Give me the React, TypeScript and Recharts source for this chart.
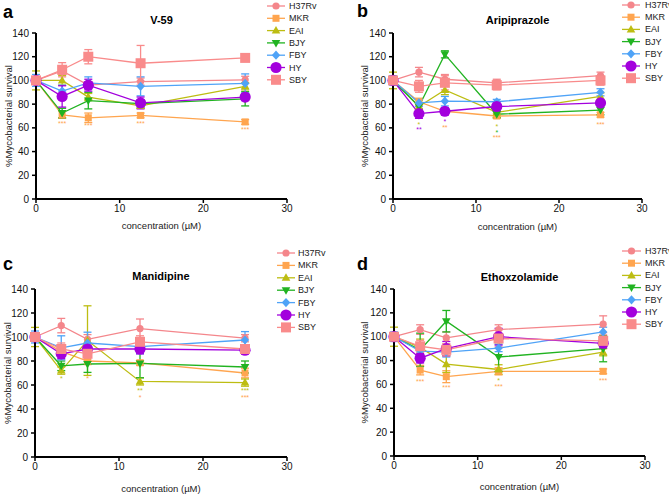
import React from 'react';
import { LineChart, Line, XAxis, YAxis, ErrorBar, ReferenceDot } from 'recharts';

const conc = [0, 3.125, 6.25, 12.5, 25];
const strains = ['H37Rv', 'MKR', 'EAI', 'BJY', 'FBY', 'HY', 'SBY'];
const xTicks = [0, 10, 20, 30];
const yTicks = [0, 20, 40, 60, 80, 100, 120, 140];

const strainColors = ['#f4868b', '#ffa54f', '#bdbd12', '#21b321', '#4fa3f7', '#a300dd', '#f98b8b'];
const strainShapes = ['circle', 'square', 'triUp', 'triDown', 'diamond', 'bigCircle', 'bigSquare'];

// rows follow strain order: H37Rv, MKR, EAI, BJY, FBY, HY, SBY
const v59Mean = [
  [100, 108, 96, 99, 100.5],
  [100, 71, 68.5, 70.5, 65],
  [100, 100, 86, 78.5, 95],
  [100, 72.5, 83, 80.5, 84.5],
  [100, 91, 98, 95, 97.5],
  [100, 86.5, 96, 81, 86],
  [100, 109, 120, 114.5, 119],
];
const v59Err = [
  [3, 3, 3, 3, 3],
  [2, 3, 4, 2, 2],
  [8, 4, 3, 2, 3],
  [2, 4, 7, 3, 6],
  [5, 5, 5, 8, 8],
  [2, 9, 5, 5, 3],
  [2, 6, 6, 15, 2],
];
const v59Stars = [
  { s: 1, x: 3.125, y: 64, t: '***' },
  { s: 1, x: 6.25, y: 62, t: '***' },
  { s: 1, x: 12.5, y: 64, t: '***' },
  { s: 1, x: 25, y: 59, t: '***' },
];

const ariMean = [
  [100, 107, 101, 98, 104],
  [100, 82, 74, 70, 71],
  [100, 78, 92, 73, 86.5],
  [100, 78, 122, 71.5, 75],
  [100, 81, 82.5, 82, 90],
  [100, 72, 74, 78, 81],
  [100, 95, 98, 96, 100],
];
const ariErr = [
  [3, 4, 4, 3, 3],
  [2, 3, 2, 2, 2],
  [7, 3, 4, 4, 3],
  [3, 3, 3, 3, 4],
  [4, 3, 4, 2, 3],
  [2, 4, 3, 4, 2],
  [2, 5, 6, 4, 4],
];
const ariStars = [
  { s: 2, x: 3.125, y: 63, t: '*' },
  { s: 5, x: 3.125, y: 58.5, t: '**' },
  { s: 5, x: 6.25, y: 65.5, t: '*' },
  { s: 1, x: 6.25, y: 60.5, t: '**' },
  { s: 2, x: 12.5, y: 61, t: '*' },
  { s: 3, x: 12.5, y: 56, t: '*' },
  { s: 1, x: 12.5, y: 51.5, t: '***' },
  { s: 1, x: 25, y: 63, t: '***' },
];

const maniMean = [
  [100, 109.5, 98, 107, 99],
  [100, 88, 80, 78.5, 70],
  [100, 72, 97, 63, 62],
  [100, 76, 77.5, 78, 75],
  [100, 91, 95, 92, 97.5],
  [100, 86, 90, 90, 89],
  [100, 90, 86, 96, 90],
];
const maniErr = [
  [3, 6, 4, 8, 3],
  [3, 3, 3, 2, 4],
  [8, 3, 29, 3, 3],
  [2, 4, 7, 12, 5],
  [5, 10, 9, 6, 7],
  [2, 4, 3, 4, 3],
  [2, 5, 5, 5, 3],
];
const maniStars = [
  { s: 2, x: 3.125, y: 65, t: '*' },
  { s: 1, x: 6.25, y: 65.5, t: '*' },
  { s: 2, x: 12.5, y: 55.5, t: '**' },
  { s: 1, x: 12.5, y: 49.5, t: '*' },
  { s: 2, x: 25, y: 55.5, t: '***' },
  { s: 1, x: 25, y: 49.5, t: '***' },
];

const ethoMean = [
  [100, 106, 99, 106, 110.5],
  [100, 72, 66.5, 71, 71],
  [100, 91, 77, 72.5, 87],
  [100, 89, 113, 83, 90],
  [100, 88, 87, 90.5, 104],
  [100, 82, 90, 100, 94.5],
  [100, 92, 89, 98.5, 96.5],
];
const ethoErr = [
  [3, 4, 5, 4, 7],
  [2, 4, 5, 3, 2],
  [8, 7, 7, 4, 3],
  [2, 14, 9, 12, 11],
  [4, 3, 4, 3, 4],
  [2, 4, 6, 7, 4],
  [2, 5, 5, 7, 5],
];
const ethoStars = [
  { s: 1, x: 3.125, y: 62.5, t: '***' },
  { s: 1, x: 6.25, y: 57, t: '***' },
  { s: 2, x: 12.5, y: 63, t: '*' },
  { s: 1, x: 12.5, y: 58, t: '***' },
  { s: 1, x: 25, y: 63, t: '***' },
];

const buildRows = (means: number[][], errs: number[][]) =>
  conc.map((x, i) => {
    const row: Record<string, number> = { x };
    strains.forEach((s, k) => {
      row[s] = means[k][i];
      row[s + '_err'] = errs[k][i];
    });
    return row;
  });

const Marker = ({ cx, cy, shape, color }: { cx: number; cy: number; shape: string; color: string }) => {
  if (cx == null || cy == null) return null;
  switch (shape) {
    case 'circle':
      return <circle cx={cx} cy={cy} r={3.6} fill={color} />;
    case 'bigCircle':
      return <circle cx={cx} cy={cy} r={5.6} fill={color} />;
    case 'square':
      return <rect x={cx - 3.5} y={cy - 3.5} width={7} height={7} fill={color} />;
    case 'bigSquare':
      return <rect x={cx - 5} y={cy - 5} width={10} height={10} fill={color} />;
    case 'triUp':
      return <polygon points={`${cx},${cy - 4.5} ${cx + 4.3},${cy + 3} ${cx - 4.3},${cy + 3}`} fill={color} />;
    case 'triDown':
      return <polygon points={`${cx},${cy + 4.5} ${cx + 4.3},${cy - 3} ${cx - 4.3},${cy - 3}`} fill={color} />;
    case 'diamond':
      return <polygon points={`${cx},${cy - 4.6} ${cx + 4.2},${cy} ${cx},${cy + 4.6} ${cx - 4.2},${cy}`} fill={color} />;
    default:
      return null;
  }
};

const panels = [
  {
    id: 'a', title: 'V-59', means: v59Mean, errs: v59Err, stars: v59Stars,
    left: 0, top: 0, width: 335, height: 245,
    plot: { l: 36, r: 287, t: 33, b: 199 },
    letterX: 3, letterY: 18, titleY: 24, xLabelY: 229, yLabelX: 8,
    legend: { x1: 267, x2: 285, tx: 289, y0: 6, dy: 12.3 },
  },
  {
    id: 'b', title: 'Aripiprazole', means: ariMean, errs: ariErr, stars: ariStars,
    left: 335, top: 0, width: 334, height: 245,
    plot: { l: 58, r: 307, t: 33, b: 199 },
    letterX: 22, letterY: 17, titleY: 24, xLabelY: 230, yLabelX: 29,
    legend: { x1: 287, x2: 305, tx: 310, y0: 5, dy: 12.2 },
  },
  {
    id: 'c', title: 'Manidipine', means: maniMean, errs: maniErr, stars: maniStars,
    left: 0, top: 245, width: 335, height: 250,
    plot: { l: 35, r: 287, t: 44, b: 212 },
    letterX: 3, letterY: 25, titleY: 35, xLabelY: 247, yLabelX: 7,
    legend: { x1: 277, x2: 295, tx: 298, y0: 8, dy: 12.4 },
  },
  {
    id: 'd', title: 'Ethoxzolamide', means: ethoMean, errs: ethoErr, stars: ethoStars,
    left: 335, top: 245, width: 334, height: 250,
    plot: { l: 59, r: 310, t: 44, b: 211 },
    letterX: 22, letterY: 25, titleY: 36, xLabelY: 245, yLabelX: 29,
    legend: { x1: 287, x2: 306, tx: 310, y0: 6, dy: 12.2 },
  },
];

const FONT = '"Liberation Sans", Arial, Helvetica, sans-serif';
const Y_AXIS_W = 30;
const X_AXIS_H = 30;

const Panel = ({ cfg }: { cfg: (typeof panels)[number] }) => {
  const { width, height, plot, legend } = cfg;
  const rows = buildRows(cfg.means, cfg.errs);
  const margin = {
    top: plot.t,
    right: width - plot.r,
    bottom: height - plot.b - X_AXIS_H,
    left: plot.l - Y_AXIS_W,
  };
  const cx = (plot.l + plot.r) / 2;
  const cy = (plot.t + plot.b) / 2;
  const tickStyle = { fontSize: 10, fill: '#111', fontFamily: FONT };

  return (
    <div style={{ position: 'absolute', left: cfg.left, top: cfg.top, width, height, overflow: 'hidden' }}>
      <LineChart width={width} height={height} data={rows} margin={margin}>
        <XAxis
          dataKey="x"
          type="number"
          domain={[0, 30]}
          ticks={xTicks}
          interval={0}
          height={X_AXIS_H}
          tick={tickStyle}
          tickSize={4}
          tickMargin={2}
          axisLine={{ stroke: '#000', strokeWidth: 2 }}
          tickLine={{ stroke: '#000', strokeWidth: 1.5 }}
        />
        <YAxis
          type="number"
          domain={[0, 140]}
          ticks={yTicks}
          interval={0}
          width={Y_AXIS_W}
          tick={tickStyle}
          tickSize={4}
          tickMargin={3}
          axisLine={{ stroke: '#000', strokeWidth: 2 }}
          tickLine={{ stroke: '#000', strokeWidth: 1.5 }}
        />
        {cfg.stars.map((st, i) => (
          <ReferenceDot
            key={`star-${i}`}
            x={st.x}
            y={st.y}
            r={0}
            fill="none"
            stroke="none"
            ifOverflow="visible"
            label={{ value: st.t, position: 'center', fill: strainColors[st.s], fontSize: 7, fontFamily: FONT }}
          />
        ))}
        {strains.map((s, k) => (
          <Line
            key={s}
            type="linear"
            dataKey={s}
            stroke={strainColors[k]}
            strokeWidth={1.3}
            isAnimationActive={false}
            activeDot={false}
            dot={(p: any) => (
              <Marker key={`${s}-${p.index}`} cx={p.cx} cy={p.cy} shape={strainShapes[k]} color={strainColors[k]} />
            )}
          >
            <ErrorBar
              dataKey={s + '_err'}
              direction="y"
              width={4}
              stroke={strainColors[k]}
              strokeWidth={1.3}
              isAnimationActive={false}
            />
          </Line>
        ))}
      </LineChart>
      <svg
        width={width}
        height={height}
        style={{ position: 'absolute', left: 0, top: 0, pointerEvents: 'none', fontFamily: FONT }}
      >
        <text x={cfg.letterX} y={cfg.letterY} fontSize={18} fontWeight="bold" fill="#000">
          {cfg.id}
        </text>
        <text x={cx} y={cfg.titleY} fontSize={11} fontWeight="bold" textAnchor="middle" fill="#000">
          {cfg.title}
        </text>
        <text x={cx} y={cfg.xLabelY} fontSize={9.5} textAnchor="middle" fill="#222">
          concentration (µM)
        </text>
        <text
          x={cfg.yLabelX}
          y={cy}
          fontSize={9.5}
          textAnchor="middle"
          fill="#222"
          transform={`rotate(-90 ${cfg.yLabelX} ${cy})`}
          dominantBaseline="central"
        >
          %Mycobacterial survival
        </text>
        {strains.map((s, k) => {
          const ly = legend.y0 + k * legend.dy;
          const mx = (legend.x1 + legend.x2) / 2;
          return (
            <g key={`leg-${s}`}>
              <line x1={legend.x1} x2={legend.x2} y1={ly} y2={ly} stroke={strainColors[k]} strokeWidth={1.3} />
              <Marker cx={mx} cy={ly} shape={strainShapes[k]} color={strainColors[k]} />
              <text x={legend.tx} y={ly} fontSize={9} fill="#222" dominantBaseline="central">
                {s}
              </text>
            </g>
          );
        })}
      </svg>
    </div>
  );
};

export default function App() {
  return (
    <div
      style={{
        position: 'absolute',
        left: 0,
        top: 0,
        width: 669,
        height: 495,
        background: '#fff',
        fontFamily: FONT,
      }}
    >
      {panels.map((p) => (
        <Panel key={p.id} cfg={p} />
      ))}
    </div>
  );
}
